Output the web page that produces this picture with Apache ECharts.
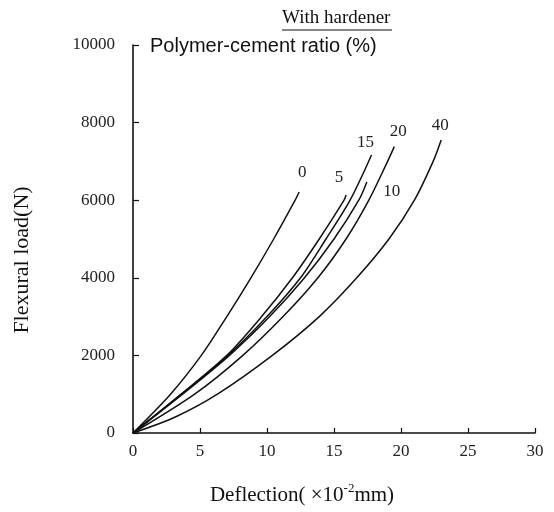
<!DOCTYPE html>
<html>
<head>
<meta charset="utf-8">
<script src="https://cdn.jsdelivr.net/npm/echarts@6/dist/echarts.min.js"></script>
<style>html,body{margin:0;padding:0;background:#fff;}#c{width:554px;height:512px;}</style>
</head>
<body>
<div id="c"></div>
<script>
// Polymer-cement ratio (%) curves: deflection (x10^-2 mm) vs flexural load (N)
const ratioNames = ['0', '5', '10', '15', '20', '40'];
const defl0  = [0, 2.8, 5.1, 7.0, 8.8, 10.5, 12.1, 12.4];
const load0  = [0, 1000, 2000, 3000, 4000, 5000, 6000, 6211];
const defl5  = [0, 3.6, 7.0, 9.6, 11.9, 13.9, 15.75, 15.9];
const load5  = [0, 1000, 2000, 3000, 4000, 5000, 6000, 6134];
const defl10 = [0, 3.7, 7.2, 10.2, 12.8, 15.0, 16.85, 17.45];
const load10 = [0, 1000, 2000, 3000, 4000, 5000, 6000, 6470];
const defl15 = [0, 3.6, 7.1, 10.0, 12.5, 14.4, 16.2, 17.8];
const load15 = [0, 1000, 2000, 3000, 4000, 5000, 6000, 7165];
const defl20 = [0, 4.6, 8.2, 11.2, 13.8, 15.9, 17.6, 19.0, 19.5];
const load20 = [0, 1000, 2000, 3000, 4000, 5000, 6000, 7000, 7380];
const defl40 = [0, 3.2, 6.3, 10.4, 13.9, 16.7, 19.1, 21.0, 22.4, 23.0];
const load40 = [0, 420, 1000, 2000, 3000, 4000, 5000, 6000, 7000, 7550];
const xTicks = [0, 5, 10, 15, 20, 25, 30];
const yTicks = [0, 2000, 4000, 6000, 8000, 10000];

const curves = [
  [defl0, load0], [defl5, load5], [defl10, load10],
  [defl15, load15], [defl20, load20], [defl40, load40]
];
const labelOffsets = {
  '0': [3, -19], '5': [-7, -17], '10': [25, 10],
  '15': [-6, -12], '20': [4, -15], '40': [-1, -15]
};

const serif = '"Liberation Serif", "DejaVu Serif", serif';
const chart = echarts.init(document.getElementById('c'), null, {renderer: 'canvas'});

const series = ratioNames.map((name, i) => ({
  name: name,
  type: 'line',
  data: curves[i][0].map((x, j) => [x, curves[i][1][j]]),
  smooth: 0.3,
  showSymbol: false,
  symbol: 'none',
  lineStyle: {color: '#111', width: 1.5},
  endLabel: {
    show: true,
    formatter: name,
    distance: 0,
    align: 'center',
    verticalAlign: 'middle',
    offset: labelOffsets[name],
    fontFamily: serif,
    fontSize: 17,
    color: '#222'
  },
  animation: false
}));

chart.setOption({
  animation: false,
  backgroundColor: '#fff',
  grid: {left: 133, right: 19, top: 45, bottom: 79},
  xAxis: {
    type: 'value',
    min: xTicks[0], max: xTicks[xTicks.length - 1], interval: 5,
    axisLine: {show: true, lineStyle: {color: '#111', width: 1.6}},
    axisTick: {show: true, inside: true, length: 5, lineStyle: {color: '#111', width: 1.2}},
    axisLabel: {fontFamily: serif, fontSize: 17, color: '#222', margin: 10,
                formatter: v => String(v)},
    splitLine: {show: false}
  },
  yAxis: {
    type: 'value',
    min: yTicks[0], max: yTicks[yTicks.length - 1], interval: 2000,
    axisLine: {show: true, lineStyle: {color: '#111', width: 1.6}},
    axisTick: {show: true, inside: true, length: 6, lineStyle: {color: '#111', width: 1.2}},
    axisLabel: {fontFamily: serif, fontSize: 17, color: '#222', margin: 18,
                formatter: v => String(v)},
    splitLine: {show: false}
  },
  graphic: [
    {type: 'text', left: 282, top: 9,
     style: {text: 'With hardener', font: '19px ' + serif, fill: '#111'}},
    {type: 'line', shape: {x1: 282, y1: 30, x2: 392, y2: 30},
     style: {stroke: '#111', lineWidth: 1.2}},
    {type: 'text', left: 150, top: 36,
     style: {text: 'Polymer-cement ratio (%)', font: '20px "Liberation Sans", Arial, sans-serif', fill: '#111'}},
    {type: 'text', x: 22, y: 260, rotation: Math.PI / 2,
     style: {text: 'Flexural load(N)', font: '22px ' + serif, fill: '#111', align: 'center', verticalAlign: 'middle'}},
    {type: 'text', x: 302, y: 495,
     style: {
       text: '{a|Deflection( ×10}{s|-2}{a|mm)}',
       align: 'center', verticalAlign: 'middle',
       rich: {
         a: {font: '21px ' + serif, fill: '#111', color: '#111'},
         s: {font: '13px ' + serif, fill: '#111', color: '#111', padding: [0, 0, 12, 0]}
       }
     }}
  ],
  series: series
});
</script>
</body>
</html>
